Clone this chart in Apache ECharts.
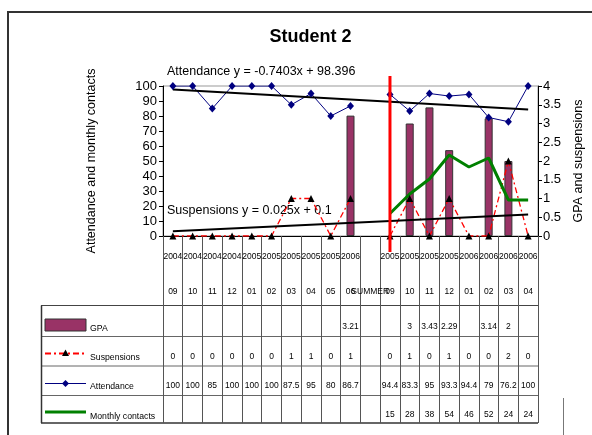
<!DOCTYPE html>
<html>
<head>
<meta charset="utf-8">
<title>Student 2</title>
<script src="https://cdn.jsdelivr.net/npm/echarts@6/dist/echarts.min.js"></script>
<style>
  html, body { margin: 0; padding: 0; background: #fff; }
  #chart { width: 592px; height: 435px; }
</style>
</head>
<body>
<div id="chart"></div>
<script>
// Month-by-month record, September 2004 to April 2006 (summer break left empty)
const categories = ['2004 09', '2004 10', '2004 11', '2004 12', '2005 01', '2005 02', '2005 03', '2005 04', '2005 05', '2006 06',
  'SUMMER', '2005 09', '2005 10', '2005 11', '2005 12', '2006 01', '2006 02', '2006 03', '2006 04'];
const yearLabels = ['2004', '2004', '2004', '2004', '2005', '2005', '2005', '2005', '2005', '2006',
  '', '2005', '2005', '2005', '2005', '2006', '2006', '2006', '2006'];
const monthLabels = ['09', '10', '11', '12', '01', '02', '03', '04', '05', '06',
  'SUMMER', '09', '10', '11', '12', '01', '02', '03', '04'];

const gpa = [null, null, null, null, null, null, null, null, null, 3.21,
  null, null, 3, 3.43, 2.29, null, 3.14, 2, null];
const suspensions = [0, 0, 0, 0, 0, 0, 1, 1, 0, 1,
  null, 0, 1, 0, 1, 0, 0, 2, 0];
const attendance = [100, 100, 85, 100, 100, 100, 87.5, 95, 80, 86.7,
  null, 94.4, 83.3, 95, 93.3, 94.4, 79, 76.2, 100];
const contacts = [null, null, null, null, null, null, null, null, null, null,
  null, 15, 28, 38, 54, 46, 52, 24, 24];

// Linear trend lines, y = slope * x + intercept with x = 1..19
const attendanceFit = { slope: -0.7403, intercept: 98.396 };
const suspensionFit = { slope: 0.025, intercept: 0.1 };

// Axis ranges
const leftAxis = { min: 0, max: 100, interval: 10 };
const rightAxis = { min: 0, max: 4, interval: 0.5 };

// Month at which the intervention starts
const startMonth = '2005 09';

const FONT = "'Liberation Sans', Arial, sans-serif";

function fitLine(fit) {
  const n = categories.length;
  return [[0, fit.slope * 1 + fit.intercept], [n - 1, fit.slope * n + fit.intercept]];
}

function fmt(v) { return v == null ? '' : String(v); }

// A data-table row drawn as an extra category axis under the plot
function tableRow(values, margin) {
  return {
    type: 'category', gridIndex: 0, position: 'bottom', data: categories,
    axisLine: { show: false }, axisTick: { show: false }, splitLine: { show: false },
    axisLabel: {
      interval: 0, margin: margin, verticalAlign: 'middle', fontSize: 8.5,
      color: '#000', fontFamily: FONT,
      formatter: (v, i) => fmt(values[i])
    }
  };
}

const chart = echarts.init(document.getElementById('chart'), null, { renderer: 'canvas' });

const option = {
  animation: false,
  backgroundColor: '#fff',
  textStyle: { fontFamily: FONT },
  grid: {
    left: 163, right: 54, top: 86, bottom: 199,
    show: true, borderColor: '#999', borderWidth: 1, backgroundColor: 'transparent',
    outerBoundsMode: 'none', containLabel: false
  },
  xAxis: [
    {
      type: 'category', data: categories, position: 'bottom', boundaryGap: true,
      axisLine: { show: true, lineStyle: { color: '#000', width: 1 } },
      axisTick: { show: true, interval: 0, length: 187, lineStyle: { color: '#555', width: 1 } },
      axisLabel: { show: false },
      splitLine: { show: false }
    },
    tableRow(yearLabels, 21),
    tableRow(monthLabels, 56),
    tableRow(gpa, 91),
    tableRow(suspensions, 121),
    tableRow(attendance, 150),
    tableRow(contacts, 179)
  ],
  yAxis: [
    {
      type: 'value', position: 'left', min: leftAxis.min, max: leftAxis.max, interval: leftAxis.interval,
      name: 'Attendance and monthly contacts', nameLocation: 'middle', nameGap: 65, nameRotate: 90,
      nameTextStyle: { fontSize: 12.5, color: '#000', fontFamily: FONT },
      axisLine: { show: true, lineStyle: { color: '#000', width: 1 } },
      axisTick: { show: true, inside: false, length: 4, lineStyle: { color: '#000' } },
      axisLabel: { fontSize: 13, color: '#000', margin: 6, fontFamily: FONT },
      splitLine: { show: false }
    },
    {
      type: 'value', position: 'right', min: rightAxis.min, max: rightAxis.max, interval: rightAxis.interval,
      name: 'GPA and suspensions', nameLocation: 'middle', nameGap: 33, nameRotate: 90,
      nameTextStyle: { fontSize: 12.5, color: '#000', fontFamily: FONT },
      axisLine: { show: true, lineStyle: { color: '#000', width: 1 } },
      axisTick: { show: true, inside: false, length: 4, lineStyle: { color: '#000' } },
      axisLabel: { fontSize: 13, color: '#000', margin: 5, fontFamily: FONT },
      splitLine: { show: false }
    }
  ],
  series: [
    {
      name: 'GPA', type: 'bar', yAxisIndex: 1, data: gpa, barWidth: 8,
      itemStyle: { color: '#993366', borderColor: '#333', borderWidth: 1 }
    },
    {
      name: 'Suspensions', type: 'line', yAxisIndex: 1, data: suspensions, connectNulls: false,
      lineStyle: { color: '#ff0000', width: 1.3, type: [6, 3, 2, 3] },
      symbol: 'triangle', symbolSize: 7, itemStyle: { color: '#000' }
    },
    {
      name: 'Attendance', type: 'line', yAxisIndex: 0, data: attendance, connectNulls: false,
      lineStyle: { color: '#000080', width: 1 },
      symbol: 'diamond', symbolSize: [7, 8], itemStyle: { color: '#000080' }
    },
    {
      name: 'Monthly contacts', type: 'line', yAxisIndex: 0, data: contacts, connectNulls: false,
      lineStyle: { color: '#008000', width: 3 }, symbol: 'none', itemStyle: { color: '#008000' }
    },
    {
      name: 'Attendance trend', type: 'line', yAxisIndex: 0, data: fitLine(attendanceFit),
      lineStyle: { color: '#000', width: 2 }, symbol: 'none', silent: true
    },
    {
      name: 'Suspensions trend', type: 'line', yAxisIndex: 1, data: fitLine(suspensionFit),
      lineStyle: { color: '#000', width: 2 }, symbol: 'none', silent: true
    }
  ]
};

chart.setOption(option);

// Frame, title, trend equations, data-table grid and legend keys
const yTop = chart.convertToPixel({ yAxisIndex: 0 }, leftAxis.max);
const yBase = chart.convertToPixel({ yAxisIndex: 0 }, leftAxis.min);
const xLeft = chart.convertToPixel({ xAxisIndex: 0 }, categories[0]);
const xRight = chart.convertToPixel({ xAxisIndex: 0 }, categories[categories.length - 1]);
const half = (xRight - xLeft) / (categories.length - 1) / 2;
const plotL = xLeft - half, plotR = xRight + half;
const xStart = chart.convertToPixel({ xAxisIndex: 0 }, startMonth);

const rowLines = [305.5, 336.5, 366, 395.5];
const tableBottom = yBase + 187;
const keyX1 = 45, keyX2 = 86, keyMid = 65.5, keyText = 90;

function hline(y, x1, x2, color, w) {
  return { type: 'line', silent: true, shape: { x1: x1, y1: y, x2: x2, y2: y }, style: { stroke: color, lineWidth: w } };
}
function text(str, x, y, size, opts) {
  return {
    type: 'text', silent: true,
    style: Object.assign({ text: str, x: x, y: y, fill: '#000', font: size + 'px ' + FONT, align: 'left', verticalAlign: 'middle' }, opts || {})
  };
}

const graphics = [
  // outer chart frame
  hline(12, 7, 592, '#333', 2),
  { type: 'line', silent: true, shape: { x1: 8, y1: 12, x2: 8, y2: 435 }, style: { stroke: '#333', lineWidth: 2 } },
  { type: 'line', silent: true, shape: { x1: 563.5, y1: 398, x2: 563.5, y2: 435 }, style: { stroke: '#777', lineWidth: 1 } },
  // title
  { type: 'text', silent: true, style: { text: 'Student 2', x: 310.5, y: 37, fill: '#000', font: 'bold 18px ' + FONT, align: 'center', verticalAlign: 'middle' } },
  // trend equations
  text('Attendance y = -0.7403x + 98.396', 167, 72, 12.5),
  text('Suspensions y = 0.025x + 0.1', 167, 210.5, 12.5),
  // table rules
  hline(rowLines[0], 41, plotR, '#444', 1),
  hline(rowLines[1], 41, plotR, '#666', 1),
  hline(rowLines[2], 41, plotR, '#666', 1),
  hline(rowLines[3], 41, plotR, '#666', 1),
  hline(tableBottom, 41, plotR, '#333', 1.5),
  { type: 'line', silent: true, shape: { x1: 41.5, y1: rowLines[0], x2: 41.5, y2: tableBottom }, style: { stroke: '#333', lineWidth: 1.5 } },
  // legend keys
  { type: 'rect', silent: true, shape: { x: keyX1, y: 319, width: keyX2 - keyX1, height: 12 }, style: { fill: '#993366', stroke: '#333', lineWidth: 1 } },
  text('GPA', keyText, 328.5, 8.7),
  { type: 'line', silent: true, shape: { x1: keyX1, y1: 353.5, x2: keyX2, y2: 353.5 }, style: { stroke: '#ff0000', lineWidth: 2, lineDash: [6, 3, 2, 3] } },
  { type: 'polygon', silent: true, shape: { points: [[keyMid, 349.5], [keyMid - 3.5, 356], [keyMid + 3.5, 356]] }, style: { fill: '#000' } },
  text('Suspensions', keyText, 357.5, 8.7),
  hline(383.5, keyX1, keyX2, '#000080', 1),
  { type: 'polygon', silent: true, shape: { points: [[keyMid, 380], [keyMid + 3.5, 383.5], [keyMid, 387], [keyMid - 3.5, 383.5]] }, style: { fill: '#000080' } },
  text('Attendance', keyText, 387, 8.7),
  hline(412, keyX1, keyX2, '#008000', 3),
  text('Monthly contacts', keyText, 416.5, 8.7),
  // start-of-intervention marker
  { type: 'line', silent: true, z: 100, shape: { x1: xStart, y1: yTop - 10, x2: xStart, y2: yBase + 16 }, style: { stroke: '#ff0000', lineWidth: 3 } }
];

chart.setOption({ graphic: graphics });
</script>
</body>
</html>
